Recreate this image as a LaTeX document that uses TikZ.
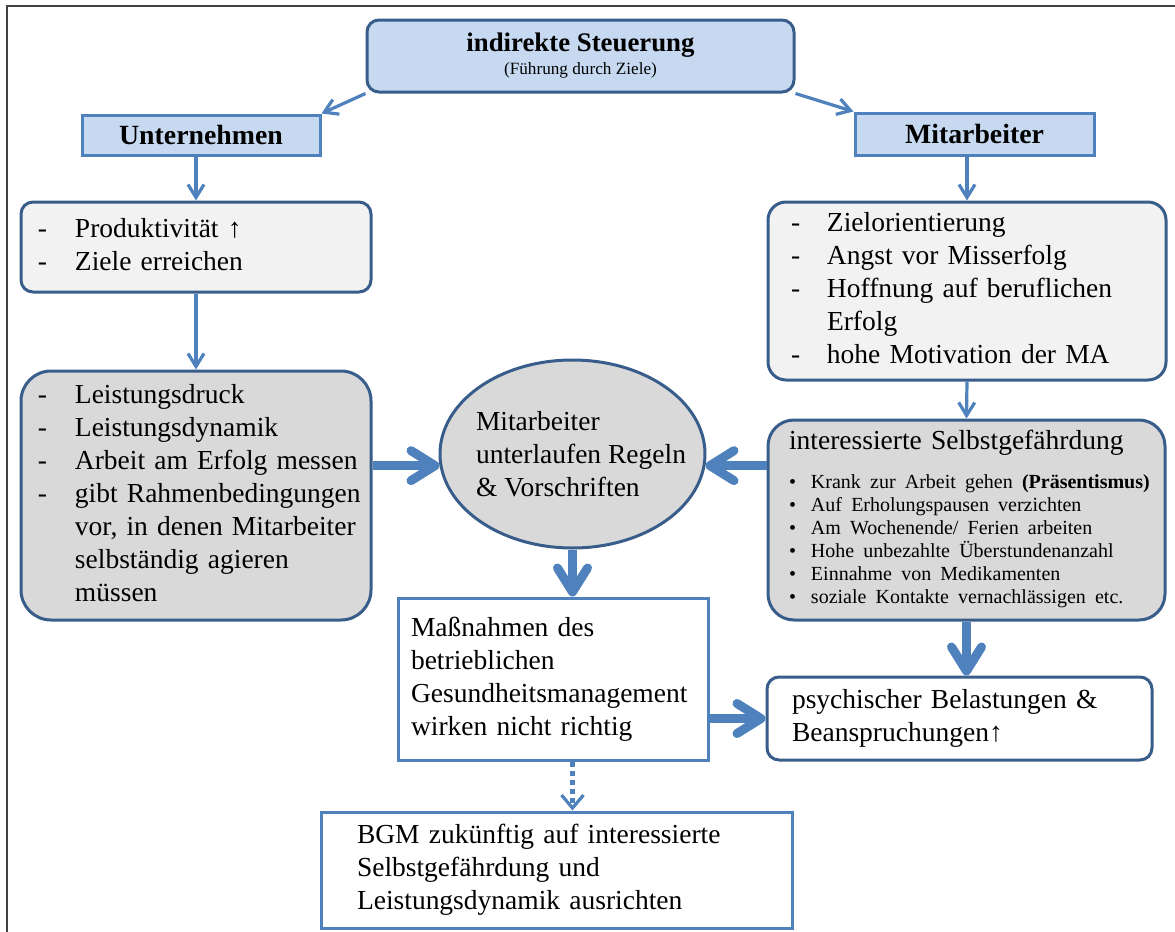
\documentclass[tikz,border=0pt]{standalone}
\usepackage{fontspec}
\setmainfont{Liberation Serif}
\usepackage{tikz}
\usetikzlibrary{arrows.meta,shapes.geometric}

\definecolor{arrblue}{HTML}{4F81BD}
\definecolor{edgeblue}{HTML}{385D8A}
\definecolor{fillblue}{HTML}{C6D9F1}
\definecolor{palegray}{HTML}{F2F2F2}
\definecolor{midgray}{HTML}{D9D9D9}

\newcommand{\bodyfont}{\fontsize{13.75}{16.5}\selectfont}
\newcommand{\bulletfont}{\fontsize{10}{11.5}\selectfont}

\begin{document}
\begin{tikzpicture}[x=0.5pt, y=-0.5pt, every node/.style={font=\bodyfont, inner ysep=0pt},
	headbox/.style={draw=arrblue, fill=fillblue, line width=1.5pt, inner sep=0pt, font=\fontsize{13.9}{16}\selectfont\bfseries},
	rbox/.style={draw=edgeblue, line width=1.5pt, align=left},
	sbox/.style={draw=arrblue, line width=1.5pt, fill=white, align=left},
	thinarrow/.style={arrblue, line width=1.6pt, -{Straight Barb[length=6.5pt,width=8pt]}},
	bigarrow/.style={arrblue, line width=4.5pt, -{Straight Barb[length=12pt,width=15pt,round]}},
	dotlink/.style={arrblue, line width=2.2pt, dash pattern=on 2.5pt off 2pt, -{Straight Barb[length=6.5pt,width=11pt,line width=1.6pt]}}]
	\useasboundingbox (0,0) rectangle (1175,932);
	\draw[black!75, line width=0.6pt] (7,932) -- (7,6) -- (1175,6);
	\node[rbox, fill=fillblue, rounded corners=6pt, minimum width=213.5pt, minimum height=36pt, inner sep=0pt, align=center, font=\fontsize{8.6}{11.5}\selectfont] (steuer) at (580.5,56) {{\fontsize{13.4}{16}\selectfont\bfseries indirekte Steuerung}\\(Führung durch Ziele)};
	\node[headbox, minimum width=119pt, minimum height=20pt] (untern) at (201,135) {Unternehmen};
	\node[headbox, minimum width=119.5pt, minimum height=21pt] (mitarb) at (974.5,134) {Mitarbeiter};
	\node[rbox, fill=palegray, rounded corners=6pt, text width=158pt, inner xsep=8.5pt, minimum height=45pt] (prod) at (196,247) {\begin{tabular}{@{}p{18.5pt}@{}l@{}}- & Produktivität ↑\\- & Ziele erreichen\end{tabular}};
	\node[rbox, fill=midgray, rounded corners=15pt, text width=158pt, inner xsep=8.5pt, minimum height=124.5pt] (leist) at (196,495.5) {\begin{tabular}{@{}p{18.5pt}@{}l@{}}- & Leistungsdruck\\- & Leistungsdynamik\\- & Arbeit am Erfolg messen\\- & gibt Rahmenbedingungen\\ & vor, in denen Mitarbeiter\\ & selbständig agieren\\ & müssen\end{tabular}};
	\node[rbox, fill=palegray, rounded corners=9pt, text width=176pt, inner xsep=11.5pt, minimum height=89pt] (ziel) at (967,291) {\begin{tabular}{@{}p{18pt}@{}l@{}}- & Zielorientierung\\- & Angst vor Misserfolg\\- & Hoffnung auf beruflichen\\ & Erfolg\\- & hohe Motivation der MA\end{tabular}};
	\node[rbox, fill=midgray, rounded corners=13pt, text width=177.5pt, inner xsep=10.5pt, minimum height=100pt] (selbst) at (966.5,520) {interessierte Selbstgefährdung\\[3pt]{\bulletfont\begin{tabular}[t]{@{}p{11pt}@{}l@{}}\textbullet & Krank zur Arbeit gehen \textbf{(Präsentismus)}\\\textbullet & Auf Erholungspausen verzichten\\\textbullet & Am Wochenende/ Ferien arbeiten\\\textbullet & Hohe unbezahlte Überstundenanzahl\\\textbullet & Einnahme von Medikamenten\\\textbullet & soziale Kontakte vernachlässigen etc.\end{tabular}}};
	\node[ellipse, draw=edgeblue, line width=1.5pt, fill=midgray, minimum width=132.5pt, minimum height=94pt, inner sep=0pt] (regel) at (572.5,454) {\makebox[0pt]{\hspace{8.5pt}\parbox{105pt}{Mitarbeiter\\unterlaufen Regeln\\\& Vorschriften}}};
	\node[sbox, text width=142pt, inner xsep=6.5pt, minimum height=81pt] (massn) at (553,679) {Maßnahmen des\\betrieblichen\\Gesundheitsmanagement\\wirken nicht richtig};
	\node[rbox, fill=white, rounded corners=6pt, text width=167.5pt, inner xsep=12.5pt, minimum height=41.5pt] (psych) at (959.5,718.5) {psychischer Belastungen \&\\Beanspruchungen↑};
	\node[sbox, text width=199.5pt, inner xsep=18pt, minimum height=58pt] (bgm) at (556.5,870) {BGM zukünftig auf interessierte\\Selbstgefährdung und\\Leistungsdynamik ausrichten};
	\draw[thinarrow] (steuer.south west) -- (untern.north east);
	\draw[thinarrow] (steuer.south east) -- (mitarb.north west);
	\draw[thinarrow] (prod.north |- untern.south) -- (prod.north);
	\draw[thinarrow] (prod.south) -- (leist.north);
	\draw[thinarrow] (ziel.north |- mitarb.south) -- (ziel.north);
	\draw[thinarrow] (ziel.south) -- (selbst.north);
	\draw[bigarrow] (leist.east |- regel.185) -- (regel.185);
	\draw[bigarrow] (selbst.west |- regel.355) -- (regel.355);
	\draw[bigarrow] (regel.south) -- (regel.south |- massn.north);
	\draw[bigarrow] (selbst.south) -- (selbst.south |- psych.north);
	\draw[bigarrow] (massn.east |- psych.west) -- (psych.west);
	\draw[dotlink] (regel.south |- massn.south) -- (regel.south |- bgm.north);
\end{tikzpicture}
\end{document}
